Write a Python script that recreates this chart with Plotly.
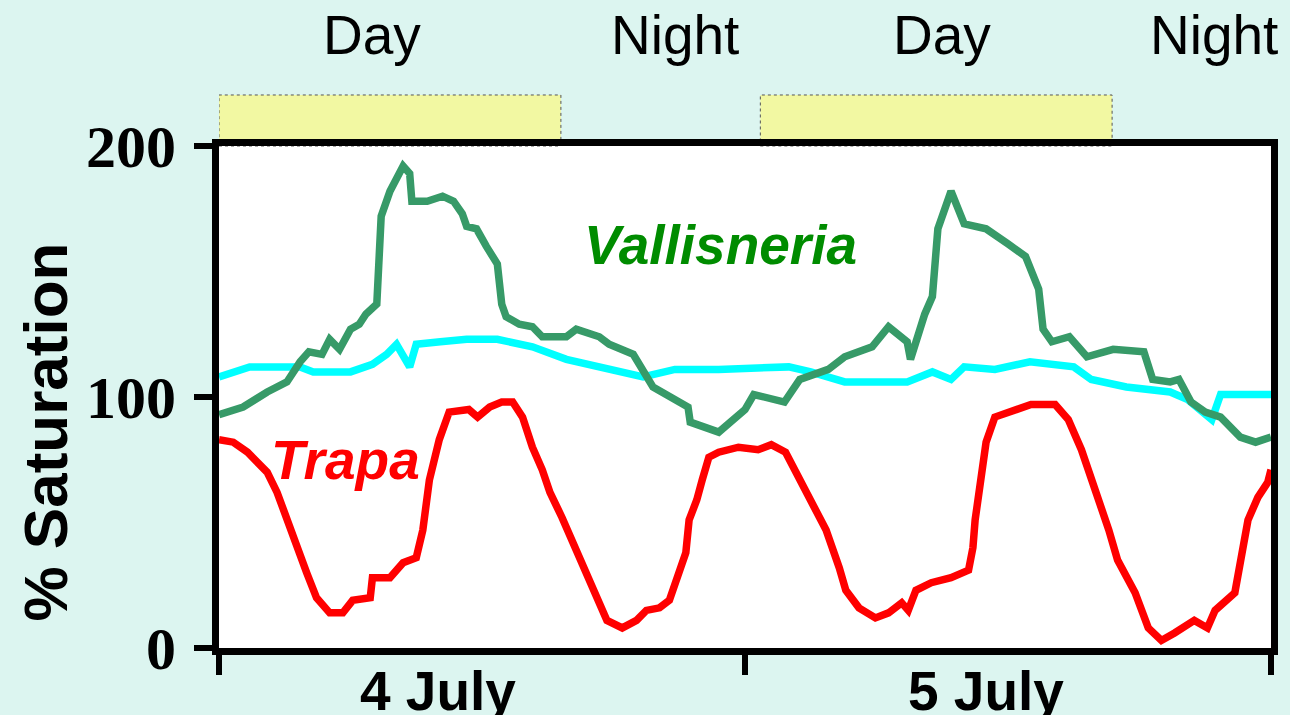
import plotly.graph_objects as go

# Hours from start of 4 July (0..48)
vall_t = [0.0, 1.1, 2.2, 3.1, 3.7, 4.1, 4.7, 5.05, 5.5, 6.0, 6.4, 6.7, 7.2, 7.3, 7.4, 7.8, 8.4, 8.7, 8.8,
          9.5, 10.2, 10.7, 11.1, 11.3, 11.75, 12.2, 12.7, 12.9, 13.1, 13.7, 14.3, 14.75, 15.85, 16.3, 17.35,
          17.8, 18.9, 19.8, 21.4, 21.5, 22.8, 24.0, 24.4, 25.8, 26.5, 27.8, 28.55, 29.8, 30.55, 31.4, 31.55,
          32.2, 32.55, 32.8, 33.4, 34.0, 35.0, 36.0, 36.8, 37.4, 37.6, 38.0, 38.8, 39.6, 40.8, 42.2, 42.6,
          43.4, 43.8, 44.35, 45.0, 45.7, 46.6, 47.3, 48.0]
vall_v = [93, 96, 102, 106, 114, 118, 117, 123, 119, 127, 129, 133, 137, 151, 172, 182, 192, 189, 178,
          178, 180, 178, 173, 168, 167, 160, 153, 137, 132, 129, 128, 124, 124, 127, 124,
          121, 117, 104, 96, 90, 86, 95, 101, 98, 107, 111, 116, 120, 128, 122, 115,
          133, 140, 167, 182, 169, 167, 161, 156, 143, 127, 122, 124, 116, 119, 118, 107,
          106, 107, 98, 94, 92, 84, 82, 84]

cyan_t = [0.0, 1.4, 3.7, 4.3, 6.0, 7.0, 7.65, 8.1, 8.7, 9.0, 10.1, 11.3, 12.7, 14.3, 15.85, 17.35,
          19.35, 20.8, 22.8, 26.0, 27.0, 28.55, 31.4, 32.55, 33.4, 34.0, 35.4, 37.0, 39.0, 39.8, 41.4,
          43.4, 44.2, 45.3, 45.7, 48.0]
cyan_v = [108, 112, 112, 110, 110, 113, 117, 121, 112, 121, 122, 123, 123, 120, 115, 112,
          108, 111, 111, 112, 110, 106, 106, 110, 107, 112, 111, 114, 112, 107, 104,
          102, 99, 91, 101, 101]

trapa_t = [0.0, 0.65, 1.3, 2.2, 2.65, 3.1, 3.55, 4.0, 4.45, 5.05, 5.65, 6.1, 6.9, 7.0, 7.8, 8.4, 9.0,
           9.3, 9.6, 10.05, 10.5, 11.4, 11.8, 12.35, 12.9, 13.4, 13.85, 14.3, 14.75, 15.1, 15.65, 16.3,
           17.0, 17.7, 18.4, 19.05, 19.5, 20.1, 20.55, 20.85, 21.3, 21.45, 21.8, 22.05, 22.35, 22.8,
           23.7, 24.6, 25.2, 25.85, 26.45, 27.05, 27.7, 28.3, 28.6, 29.2, 29.95, 30.55, 31.15, 31.45,
           31.8, 32.5, 33.4, 34.2, 34.4, 34.5, 34.8, 35.0, 35.4, 36.15, 37.05, 38.15, 38.75, 39.35,
           40.0, 40.6, 41.0, 41.8, 42.4, 43.0, 43.6, 44.5, 45.1, 45.45, 46.35, 46.6, 46.95, 47.4,
           47.85, 48.0]
trapa_v = [83, 82, 78, 70, 62, 51, 39, 30, 20, 14, 14, 19, 20, 28, 28, 34, 36,
           47, 67, 83, 94, 95, 92, 96, 98, 98, 92, 80, 71, 62, 52, 39,
           24, 11, 8, 11, 15, 16, 19, 27, 38, 51, 59, 67, 76, 78,
           80, 79, 81, 78, 68, 58, 47, 32, 23, 16, 12, 14, 18, 15,
           23, 26, 28, 31, 40, 51, 67, 82, 92, 94, 97, 97, 91, 79,
           63, 47, 35, 22, 8, 3, 6, 11, 8, 15, 22, 36, 51, 60,
           66, 71]

day_periods = [(0.0, 15.6), (24.7, 40.75)]
period_labels = ["Day", "Night", "Day", "Night"]
period_label_x = [7.0, 20.8, 33.0, 45.4]
date_labels = ["4 July", "5 July"]
date_label_x = [10.0, 35.0]
y_ticks = [0, 100, 200]

BG = "#dcf5f0"

fig = go.Figure()
fig.add_trace(go.Scatter(x=cyan_t, y=cyan_v, mode="lines", line=dict(color="#00ffff", width=7.5),
                         showlegend=False, hoverinfo="skip"))
fig.add_trace(go.Scatter(x=vall_t, y=vall_v, mode="lines", line=dict(color="#379a68", width=7.5),
                         showlegend=False, hoverinfo="skip"))
fig.add_trace(go.Scatter(x=trapa_t, y=trapa_v, mode="lines", line=dict(color="#ff0000", width=7.5),
                         showlegend=False, hoverinfo="skip"))

for x0, x1 in day_periods:
    fig.add_shape(type="rect", xref="x", yref="paper", x0=x0, x1=x1, y0=1.0, y1=1.1016,
                  fillcolor="#f2f8a2", line=dict(color="#555555", width=1, dash="dot"), layer="below")

for lab, xv in zip(period_labels, period_label_x):
    fig.add_annotation(x=xv, y=1.221, xref="x", yref="paper", text=lab, showarrow=False,
                       font=dict(family="Liberation Sans, Arial", size=55, color="black"),
                       xanchor="center", yanchor="middle")

for lab, xv in zip(date_labels, date_label_x):
    fig.add_annotation(x=xv, y=-0.086, xref="x", yref="paper", text="<b>" + lab + "</b>",
                       showarrow=False,
                       font=dict(family="Liberation Sans, Arial", size=55, color="black"),
                       xanchor="center", yanchor="middle")

fig.add_annotation(x=-0.165, y=0.43, xref="paper", yref="paper", text="<b>% Saturation</b>",
                   textangle=-90, showarrow=False,
                   font=dict(family="Liberation Sans, Arial", size=62, color="black"),
                   xanchor="center", yanchor="middle")

fig.add_annotation(x=22.9, y=160.5, xref="x", yref="y", text="<b><i>Vallisneria</i></b>",
                   showarrow=False, font=dict(family="Liberation Sans, Arial", size=55, color="#008c00"),
                   xanchor="center", yanchor="middle")
fig.add_annotation(x=5.75, y=75, xref="x", yref="y", text="<b><i>Trapa</i></b>",
                   showarrow=False, font=dict(family="Liberation Sans, Arial", size=55, color="#ff0000"),
                   xanchor="center", yanchor="middle")

fig.update_xaxes(range=[0, 48], tickvals=[0, 24, 48], ticktext=["", "", ""], ticks="outside",
                 ticklen=20, tickwidth=6, tickcolor="black", showline=True, linewidth=7,
                 linecolor="black", mirror=True, showgrid=False, zeroline=False)
fig.update_yaxes(range=[0, 200], tickvals=y_ticks, ticktext=[str(v) for v in y_ticks],
                 ticks="outside", ticklen=18, tickwidth=6, tickcolor="black", showline=True,
                 linewidth=7, linecolor="black", mirror=True, showgrid=False, zeroline=False,
                 tickfont=dict(family="Liberation Serif, Times New Roman", size=60, color="black",
                               weight="bold"),
                 ticklabelstandoff=6)

fig.update_layout(width=1290, height=715, margin=dict(l=219, r=17, t=146, b=67),
                  paper_bgcolor=BG, plot_bgcolor="white", showlegend=False)

fig.write_html("out.html", config={"displayModeBar": False},
               post_script="document.body.style.margin='0';document.body.style.overflow='hidden';"
                           "document.body.style.background='" + BG + "';")
